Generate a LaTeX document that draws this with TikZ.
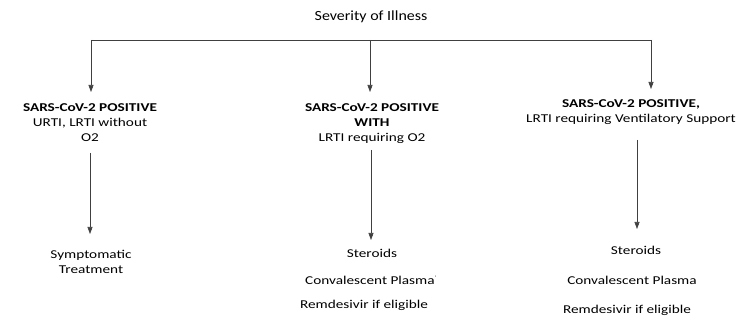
\documentclass[tikz,border=0pt]{standalone}
\usepackage{fontspec}
\setmainfont{Carlito}[FakeStretch=1.27]
\newfontfamily\titlefont{Carlito}[FakeStretch=1.14]
\usetikzlibrary{arrows.meta}
\begin{document}
\begin{tikzpicture}[x=1pt,y=-1pt,
  txt/.style={inner sep=0pt,align=center,font=\fontsize{12}{15}\selectfont},
  ln/.style={draw=black!75,line width=0.6pt},
  arr/.style={ln,-{Triangle[width=5pt,length=7pt]}}]
\useasboundingbox[fill=white] (0,0) rectangle (738,320);
\node[txt,font=\titlefont\fontsize{14}{16}\selectfont] (title) at (371,17) {Severity of Illness};
\coordinate (bl) at (91,40);
\coordinate (bm) at (370,40);
\coordinate (br) at (651,40);
\node[txt] (h1) at (90,123) {\textbf{SARS-CoV-2 POSITIVE}\\URTI, LRTI without\\O2};
\node[txt] (h2) at (372,123.5) {\textbf{SARS-CoV-2 POSITIVE}\\\textbf{WITH}\\LRTI requiring O2};
\node[txt] (h3) at (631,112.5) {\textbf{SARS-CoV-2 POSITIVE,}\\LRTI requiring Ventilatory Support};
\coordinate (t1) at (91,92);
\coordinate (t2) at (370,92);
\coordinate (t3) at (651,89);
\draw[ln] (bl) -- (br);
\draw[arr] (bl) -- (t1);
\draw[arr] (bm) -- (t2);
\draw[arr] (br) -- (t3);
\node[txt] (s1) at (91,262) {Symptomatic\\Treatment};
\node[txt] (s2) at (372,253) {Steroids};
\node[txt] (c2) at (371,280) {Convalescent Plasma\textsuperscript{\tiny '}};
\node[txt] (r2) at (364,305) {Remdesivir if eligible};
\node[txt] (s3) at (636,250) {Steroids};
\node[txt] (c3) at (632,280) {Convalescent Plasma};
\node[txt] (r3) at (627,310) {Remdesivir if eligible};
\coordinate (e1) at (90,153);
\coordinate (e2) at (371,150);
\coordinate (e3) at (637,140);
\draw[arr] (e1) -- (e1 |- 0,234);
\draw[arr] (e2) -- (e2 |- 0,240);
\draw[arr] (e3) -- (e3 |- 0,229);
\end{tikzpicture}
\end{document}
